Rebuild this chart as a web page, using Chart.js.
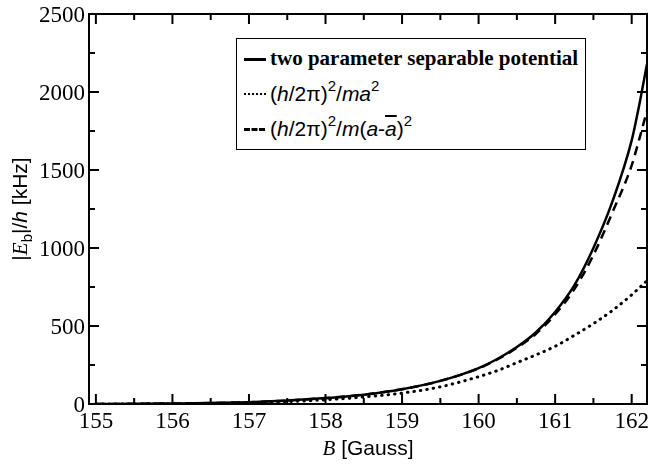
<!DOCTYPE html>
<html>
<head>
<meta charset="utf-8">
<script src="https://cdn.jsdelivr.net/npm/chart.js@4/dist/chart.umd.min.js"></script>
<style>
  body { margin: 0; background: #fff; }
  #wrap { position: relative; width: 649px; height: 466px; }
  #chart { position: absolute; left: 0; top: 0; }
  .sans { font-family: "Liberation Sans", Arial, sans-serif; }
  #ytitle { position: absolute; left: 20px; top: 209px; transform: translate(-50%, -50%) rotate(-90deg);
            font-size: 21px; white-space: nowrap; color: #000; }
  #xtitle { position: absolute; left: 368px; top: 448px; transform: translate(-50%, -50%);
            font-size: 21px; white-space: nowrap; color: #000; }
  #legend { position: absolute; left: 236px; top: 38px; width: 350px; height: 112px;
            border: 1.5px solid #000; box-sizing: border-box; background: #fff; padding-top: 2px; }
  .row { position: relative; height: 35px; line-height: 35px; white-space: nowrap; }
  .swatch { position: absolute; left: 7px; top: 17px; width: 22px; height: 0; border-top: 3px solid #000; }
  .dot { border-top: 2.5px dotted #000; }
  .dash { border-top-style: dashed; width: 21px; }
  .lbl { position: absolute; left: 33px; top: 0; font-size: 21px; color: #000; }
  .serif { font-family: "Liberation Serif", "Times New Roman", serif; font-weight: bold; }
  .tick { position: absolute; font-family: "Liberation Serif", "Times New Roman", serif; font-size: 23px;
          line-height: 1; color: #000; white-space: nowrap; }
  sup { font-size: 15px; vertical-align: 10px; line-height: 0; }
  sub { font-size: 15px; vertical-align: -5px; line-height: 0; }
</style>
</head>
<body>
<div id="wrap">
  <canvas id="chart" width="649" height="466"></canvas>
  <div id="ticklabels"></div>
  <div id="ytitle" class="sans">|<i class="serif" style="font-weight:normal">E</i><sub>b</sub>|/<i>h</i> [kHz]</div>
  <div id="xtitle" class="sans"><i class="serif" style="font-weight:normal">B</i> [Gauss]</div>
  <div id="legend">
    <div class="row"><span class="swatch"></span><span class="lbl serif">two parameter separable potential</span></div>
    <div class="row"><span class="swatch dot"></span><span class="lbl sans">(<i>h</i>/2π)<sup>2</sup>/<i>ma</i><sup>2</sup></span></div>
    <div class="row"><span class="swatch dash"></span><span class="lbl sans">(<i>h</i>/2π)<sup>2</sup>/<i>m</i>(<i>a</i>-<i style="text-decoration:overline">a</i>)<sup>2</sup></span></div>
  </div>
</div>
<script>
// magnetic field [Gauss]
const fieldB = [155, 155.5, 156, 156.5, 157, 157.5, 158, 158.5, 159, 159.5, 160, 160.25, 160.5, 160.75, 161, 161.25, 161.5, 161.75, 162, 162.1, 162.2];
// |Eb|/h [kHz]
const separable = [0, 1, 3, 6, 12, 22, 38, 60, 95, 148, 230, 290, 365, 460, 590, 760, 1000, 1300, 1690, 1920, 2180];
const universal = [0, 0.5, 2, 4, 8, 15, 27, 45, 70, 110, 175, 215, 265, 315, 370, 440, 515, 600, 700, 745, 790];
const shifted = [0, 1, 3, 6, 12, 22, 38, 60, 95, 148, 228, 287, 360, 450, 575, 735, 955, 1230, 1530, 1700, 1880];

const xTicks = [155, 156, 157, 158, 159, 160, 161, 162];
const yTicks = [0, 500, 1000, 1500, 2000, 2500];

const pts = arr => fieldB.map((b, i) => ({ x: b, y: arr[i] }));

// inward ticks on all four sides plus the frame
const frameTicks = {
    id: 'frameTicks',
    afterDraw(chart) {
        const { ctx, chartArea: a, scales } = chart;
        const xs = scales.x, ys = scales.y;
        ctx.save();
        ctx.strokeStyle = '#000';
        ctx.lineWidth = 2;
        ctx.strokeRect(a.left, a.top, a.right - a.left, a.bottom - a.top);
        ctx.beginPath();
        for (let v = 155; v <= 162.2; v += 0.5) {
            const px = xs.getPixelForValue(v);
            const len = Number.isInteger(v) ? 10 : 6;
            ctx.moveTo(px, a.bottom); ctx.lineTo(px, a.bottom - len);
            ctx.moveTo(px, a.top); ctx.lineTo(px, a.top + len);
        }
        for (let v = 0; v <= 2500; v += 250) {
            const py = ys.getPixelForValue(v);
            const len = v % 500 === 0 ? 10 : 6;
            ctx.moveTo(a.left, py); ctx.lineTo(a.left + len, py);
            ctx.moveTo(a.right, py); ctx.lineTo(a.right - len, py);
        }
        ctx.stroke();
        ctx.restore();
    }
};

// canvas here ignores serif families, so tick labels go in as html text placed by the scales
const htmlTickLabels = {
    id: 'htmlTickLabels',
    afterDraw(chart) {
        const box = document.getElementById('ticklabels');
        box.innerHTML = '';
        const { chartArea: a, scales } = chart;
        xTicks.forEach(v => {
            const s = document.createElement('span');
            s.className = 'tick';
            s.textContent = String(v);
            s.style.left = scales.x.getPixelForValue(v) + 'px';
            s.style.top = (a.bottom + 16) + 'px';
            s.style.transform = 'translate(-50%, -50%)';
            box.appendChild(s);
        });
        yTicks.forEach(v => {
            const s = document.createElement('span');
            s.className = 'tick';
            s.textContent = String(v);
            s.style.right = (649 - a.left + 4) + 'px';
            s.style.top = scales.y.getPixelForValue(v) + 'px';
            s.style.transform = 'translateY(-50%)';
            box.appendChild(s);
        });
    }
};

const common = { pointRadius: 0, fill: false, borderColor: '#000', cubicInterpolationMode: 'monotone' };

new Chart(document.getElementById('chart'), {
    type: 'line',
    data: {
        datasets: [
            Object.assign({ label: 'two parameter separable potential', data: pts(separable), borderWidth: 2.5 }, common),
            Object.assign({ label: '(h/2π)²/ma²', data: pts(universal), borderWidth: 3, borderDash: [0.5, 6], borderCapStyle: 'round' }, common),
            Object.assign({ label: '(h/2π)²/m(a-ā)²', data: pts(shifted), borderWidth: 2.5, borderDash: [9, 6] }, common)
        ]
    },
    options: {
        responsive: false,
        animation: false,
        layout: { padding: { top: 14, right: 2, left: 0, bottom: 0 } },
        plugins: { legend: { display: false }, tooltip: { enabled: false } },
        scales: {
            x: {
                type: 'linear', min: 154.91, max: 162.2,
                grid: { display: false }, border: { display: false },
                afterBuildTicks: s => { s.ticks = xTicks.map(v => ({ value: v })); },
                afterFit: s => { s.height = 62; },
                ticks: { display: false }
            },
            y: {
                min: 0, max: 2500,
                grid: { display: false }, border: { display: false },
                afterBuildTicks: s => { s.ticks = yTicks.map(v => ({ value: v })); },
                afterFit: s => { s.width = 89; },
                ticks: { display: false }
            }
        }
    },
    plugins: [frameTicks, htmlTickLabels]
});
</script>
</body>
</html>
